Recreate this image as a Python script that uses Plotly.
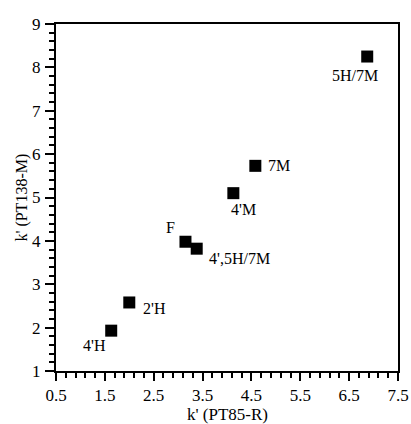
import plotly.graph_objects as go

# Data
labels = ["4'H", "2'H", "F", "4',5H/7M", "4'M", "7M", "5H/7M"]
k_pt85 = [1.63, 2.00, 3.15, 3.38, 4.13, 4.58, 6.87]
k_pt138 = [1.93, 2.58, 3.98, 3.82, 5.10, 5.73, 8.25]
x_title = "k' (PT85-R)"
y_title = "k' (PT138-M)"

# label offsets in pixels (style)
offsets = {
    "4'H": (-3, 15, "right"),
    "2'H": (12, 6, "left"),
    "F": (-15, -14, "center"),
    "4',5H/7M": (10, 10, "left"),
    "4'M": (10, 16, "center"),
    "7M": (11, 0, "left"),
    "5H/7M": (-12, 19, "center"),
}

font_family = "Liberation Serif, Times New Roman, serif"

fig = go.Figure()
fig.add_trace(go.Scatter(
    x=k_pt85, y=k_pt138, mode="markers",
    marker=dict(symbol="square", size=12, color="black", line=dict(width=0)),
    showlegend=False, hoverinfo="skip",
))

for lab, xv, yv in zip(labels, k_pt85, k_pt138):
    dx, dy, anchor = offsets[lab]
    fig.add_annotation(
        x=xv, y=yv, text=lab, showarrow=False,
        xshift=dx, yshift=-dy, xanchor=anchor, yanchor="middle",
        font=dict(family=font_family, size=16, color="black"),
    )

# axis titles
fig.add_annotation(
    x=0.5, y=0, xref="paper", yref="paper", text=x_title, showarrow=False,
    xanchor="center", yanchor="middle", yshift=-43,
    font=dict(family=font_family, size=17, color="black"),
)
fig.add_annotation(
    x=0, y=0.5, xref="paper", yref="paper", text=y_title, showarrow=False,
    xanchor="center", yanchor="middle", xshift=-35, textangle=-90,
    font=dict(family=font_family, size=16, color="black"),
)

axis_common = dict(
    showgrid=False, zeroline=False, automargin=False,
    showline=True, linecolor="black", linewidth=2, mirror=True,
    ticks="outside", tickwidth=2, tickcolor="black",
    tickfont=dict(family=font_family, size=17, color="black"),
)

fig.update_xaxes(
    range=[0.5, 7.5], tick0=0.5, dtick=1, ticklen=8,
    minor=dict(dtick=0.2, tick0=0.5, ticks="outside", ticklen=5, tickwidth=1.5, tickcolor="black"),
    **axis_common,
)
fig.update_yaxes(
    range=[1, 9], tick0=1, dtick=1, ticklen=9, ticklabelstandoff=1,
    minor=dict(dtick=0.2, tick0=1, ticks="outside", ticklen=5, tickwidth=1.5, tickcolor="black"),
    **axis_common,
)

fig.update_layout(
    width=411, height=424,
    margin=dict(l=56, r=13, t=24, b=53),
    plot_bgcolor="white", paper_bgcolor="white",
)

fig.write_html("out.html")
